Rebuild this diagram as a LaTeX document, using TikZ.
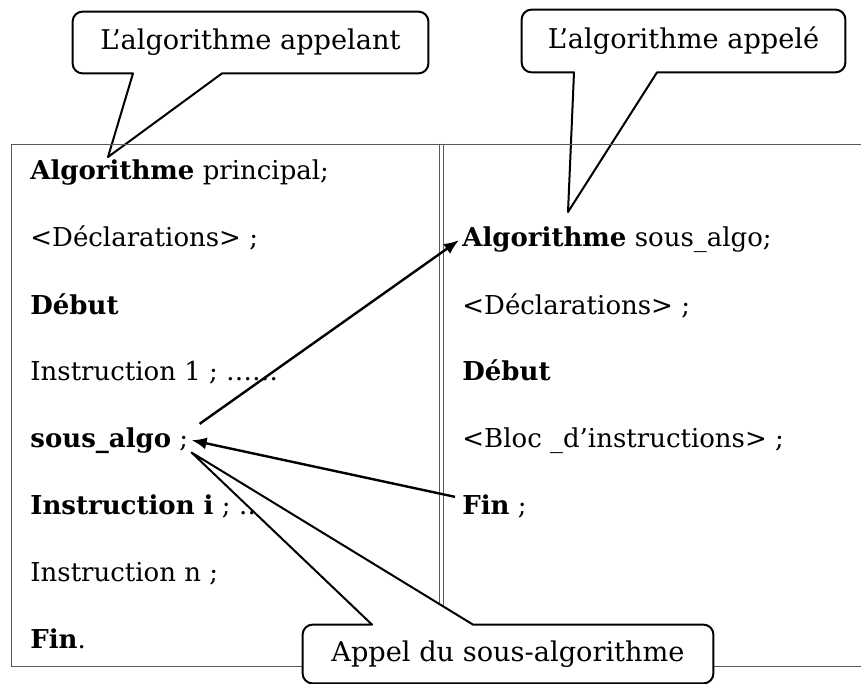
\documentclass[tikz,border=0pt]{standalone}
\usepackage{fontspec}
\setmainfont{DejaVu Serif}
\usetikzlibrary{arrows.meta}

\tikzset{
  ligne/.style={anchor=base west, inner sep=1.5pt, font=\fontsize{13}{15}\selectfont},
  bulle/.style={inner sep=0pt, font=\fontsize{13.6}{16}\selectfont},
  contour/.style={draw=black, line width=1pt, fill=white, line join=round},
  tableau/.style={draw=black!65, line width=0.45pt},
  fleche/.style={-{Latex[length=7.5pt,width=6pt]}, line width=1.2pt},
}

\begin{document}
\begin{tikzpicture}[x=0.5pt, y=-0.5pt]
  \useasboundingbox (0,0) rectangle (861,684);

  % bulles du haut
  \node[bulle, minimum width=177.5pt, minimum height=30.5pt] (bulleAppelant) at (250.5,42.5) {};
  \node[bulle, minimum width=161.5pt, minimum height=31pt] (bulleAppele) at (683.5,41) {};
  \coordinate (pointeA) at (108,157);
  \coordinate (pointeB) at (568,212);
  \draw[contour] (222,0 |- bulleAppelant.south) [rounded corners=5pt] -- (bulleAppelant.south east)
    -- (bulleAppelant.north east) -- (bulleAppelant.north west) -- (bulleAppelant.south west)
    [sharp corners] -- (133,0 |- bulleAppelant.south) -- (pointeA) -- cycle;
  \draw[contour] (657,0 |- bulleAppele.south) [rounded corners=5pt] -- (bulleAppele.south east)
    -- (bulleAppele.north east) -- (bulleAppele.north west) -- (bulleAppele.south west)
    [sharp corners] -- (574,0 |- bulleAppele.south) -- (pointeB) -- cycle;
  \node[bulle] at (bulleAppelant) {L’algorithme appelant};
  \node[bulle] at (bulleAppele) {L’algorithme appelé};

  % tableau
  \draw[tableau] (861,144) -- (11,144) -- (11,666) -- (861,666);
  \draw[tableau] (439.5,144) -- (439.5,666);
  \draw[tableau] (443,144) -- (443,666);

  % algorithme appelant
  \node[ligne] (princ)   at (27,180) {\textbf{Algorithme} principal;};
  \node[ligne] (declP)   at (27,247) {<Déclarations> ;};
  \node[ligne] (debutP)  at (27,314) {\textbf{Début}};
  \node[ligne] (instr1)  at (27,380) {Instruction 1 ; ……};
  \node[ligne] (appelP)  at (27,447) {\textbf{sous\_algo} ;};
  \node[ligne] (instri)  at (27,514) {\textbf{Instruction i} ; ……};
  \node[ligne] (instrn)  at (27,581) {Instruction n ;};
  \node[ligne] (finP)    at (27,648) {\textbf{Fin}.};

  % algorithme appelé
  \node[ligne] (sousalgo) at (459,247) {\textbf{Algorithme} sous\_algo;};
  \node[ligne] (declS)    at (459,314) {<Déclarations> ;};
  \node[ligne] (debutS)   at (459,380) {\textbf{Début}};
  \node[ligne] (bloc)     at (459,447) {<Bloc \_d’instructions> ;};
  \node[ligne] (finS)     at (459,514) {\textbf{Fin} ;};

  % bulle du bas
  \node[bulle, minimum width=205pt, minimum height=29pt] (bulleAppel) at (508,654) {};
  \draw[contour] (473,0 |- bulleAppel.north) [rounded corners=5pt] -- (bulleAppel.north east)
    -- (bulleAppel.south east) -- (bulleAppel.south west) -- (bulleAppel.north west)
    [sharp corners] -- (372,0 |- bulleAppel.north) -- ([yshift=2pt]appelP.south east) -- cycle;
  \node[bulle] at (bulleAppel) {Appel du sous-algorithme};

  % appel et retour
  \draw[fleche] ([xshift=4pt]appelP.north east) -- (sousalgo.west);
  \draw[fleche] ([xshift=-2pt,yshift=-3pt]finS.north west) -- (appelP.east);
\end{tikzpicture}
\end{document}
